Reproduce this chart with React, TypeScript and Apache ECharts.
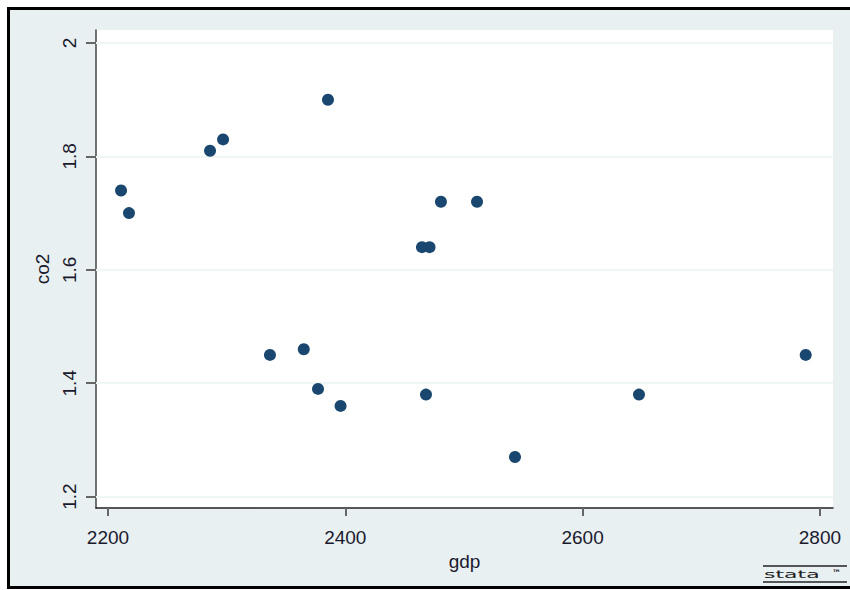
import React, { useEffect, useRef } from "react";
import * as echarts from "echarts";

const gdp = [2211, 2217.7, 2286, 2297, 2385.4, 2336.5, 2365, 2377, 2396, 2464.6, 2471, 2480.6, 2511, 2468, 2543, 2647.5, 2788];
const co2 = [1.74, 1.70, 1.81, 1.83, 1.90, 1.45, 1.46, 1.39, 1.36, 1.64, 1.64, 1.72, 1.72, 1.38, 1.27, 1.38, 1.45];
const xTicks = [2200, 2400, 2600, 2800];
const yTicks = [1.2, 1.4, 1.6, 1.8, 2];

export default function App() {
  const ref = useRef<HTMLDivElement>(null);
  useEffect(() => {
    if (!ref.current) return;
    const chart = echarts.init(ref.current, null, { renderer: "svg" });
    const textColor = "#1a1a2e";
    const font = "Liberation Sans";
    chart.setOption({
      animation: false,
      backgroundColor: "#ffffff",
      graphic: [
        {
          type: "rect",
          z: -10,
          shape: { x: 8.5, y: 8.5, width: 850, height: 579 },
          style: { fill: "#e9f0f2", stroke: "#000", lineWidth: 3 },
        },
        {
          type: "line",
          shape: { x1: 763, y1: 566, x2: 847, y2: 566 },
          style: { stroke: "#222", lineWidth: 1.5 },
        },
        {
          type: "line",
          shape: { x1: 763, y1: 582, x2: 847, y2: 582 },
          style: { stroke: "#222", lineWidth: 1.5 },
        },
        {
          type: "text",
          x: 764,
          y: 569,
          scaleX: 2,
          style: { text: "stata", fill: "#222", font: "11px 'DejaVu Sans'" },
        },
        {
          type: "text",
          x: 832,
          y: 568,
          style: { text: "™", fill: "#222", font: "bold 9px 'DejaVu Sans'" },
        },
      ],
      grid: {
        left: 96,
        top: 30,
        right: 17,
        bottom: 82,
        show: true,
        backgroundColor: "#ffffff",
        borderWidth: 0,
      },
      xAxis: {
        type: "value",
        min: 2189.9,
        max: 2811,
        name: "gdp",
        nameLocation: "middle",
        nameGap: 36,
        nameTextStyle: { color: textColor, fontSize: 19, fontFamily: font, verticalAlign: "top" },
        axisLine: { show: true, onZero: false, lineStyle: { color: "#222", width: 1.5 } },
        axisTick: { show: true, customValues: xTicks, length: 8, lineStyle: { color: "#666", width: 2 } },
        axisLabel: {
          customValues: xTicks,
          margin: 20,
          color: textColor,
          fontSize: 19,
          fontFamily: font,
          formatter: (v: number) => String(Math.round(v)),
        },
        splitLine: { show: false },
      },
      yAxis: {
        type: "value",
        min: 1.18,
        max: 2.0229,
        name: "co2",
        nameLocation: "middle",
        nameGap: 38,
        nameRotate: 90,
        nameTextStyle: { color: textColor, fontSize: 19, fontFamily: font },
        axisLine: { show: true, onZero: false, lineStyle: { color: "#444", width: 1.5 } },
        axisTick: { show: true, customValues: yTicks, length: 10, lineStyle: { color: "#666", width: 2 } },
        axisLabel: {
          customValues: yTicks,
          rotate: 90,
          margin: 17,
          color: textColor,
          fontSize: 19,
          fontFamily: font,
          formatter: (v: number) => String(Math.round(v * 10) / 10),
        },
        splitLine: { show: false },
      },
      series: [
        {
          type: "scatter",
          data: gdp.map((g, i) => [g, co2[i]]),
          symbolSize: 12,
          itemStyle: { color: "#1a476f", opacity: 1 },
          markLine: {
            silent: true,
            symbol: "none",
            label: { show: false },
            lineStyle: { color: "#f0f5f5", width: 2, type: "solid" },
            data: yTicks.map((v) => ({ yAxis: v })),
            z: 1,
          },
          z: 5,
        },
      ],
    });
    return () => chart.dispose();
  }, []);
  return (
    <div
      ref={ref}
      style={{ position: "absolute", left: 0, top: 0, width: 850, height: 590 }}
    />
  );
}
